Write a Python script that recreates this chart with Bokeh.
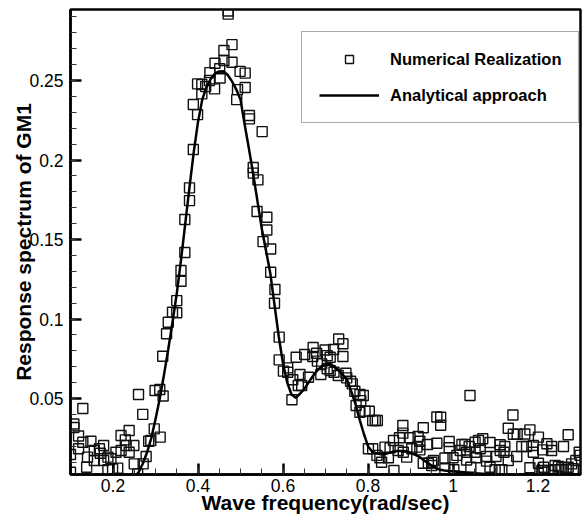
from bokeh.plotting import figure
from bokeh.models import Range1d, SingleIntervalTicker, CustomJSTickFormatter, Legend, LegendItem
from bokeh.embed import file_html
from bokeh.resources import INLINE

# ---- data ----
num_x = [0.100, 0.100, 0.108, 0.108, 0.119, 0.119, 0.129, 0.129, 0.140, 0.138,
         0.148, 0.156, 0.156, 0.168, 0.170, 0.178, 0.178, 0.188, 0.195, 0.188,
         0.199, 0.211, 0.207, 0.219, 0.219, 0.229, 0.231, 0.238, 0.238, 0.249,
         0.250, 0.258, 0.260, 0.270, 0.271, 0.278, 0.284, 0.289, 0.297, 0.311,
         0.299, 0.310, 0.318, 0.317, 0.326, 0.330, 0.340, 0.350, 0.350, 0.360,
         0.360, 0.369, 0.369, 0.380, 0.380, 0.389, 0.389, 0.399, 0.399, 0.409,
         0.409, 0.418, 0.427, 0.428, 0.439, 0.440, 0.451, 0.452, 0.461, 0.461,
         0.471, 0.471, 0.480, 0.480, 0.491, 0.493, 0.499, 0.511, 0.511, 0.521,
         0.521, 0.551, 0.530, 0.530, 0.541, 0.539, 0.562, 0.562, 0.553, 0.571,
         0.571, 0.581, 0.580, 0.591, 0.591, 0.601, 0.611, 0.611, 0.621, 0.623,
         0.631, 0.640, 0.636, 0.644, 0.651, 0.660, 0.671, 0.670, 0.679, 0.681,
         0.689, 0.699, 0.704, 0.704, 0.691, 0.711, 0.711, 0.719, 0.720, 0.731,
         0.741, 0.741, 0.730, 0.748, 0.750, 0.759, 0.763, 0.769, 0.781, 0.789,
         0.783, 0.772, 0.781, 0.793, 0.803, 0.811, 0.817, 0.822, 0.801, 0.811,
         0.821, 0.828, 0.832, 0.840, 0.848, 0.852, 0.860, 0.861, 0.871, 0.874,
         0.882, 0.882, 0.883, 0.891, 0.899, 0.903, 0.915, 0.918, 0.922, 0.922,
         0.930, 0.930, 0.940, 0.942, 0.950, 0.950, 0.954, 0.962, 0.962, 0.971,
         0.971, 0.981, 0.981, 0.991, 0.991, 1.000, 1.002, 1.002, 1.009, 1.017,
         1.021, 1.028, 1.032, 1.032, 1.038, 1.040, 1.042, 1.052, 1.052, 1.054,
         1.060, 1.064, 1.070, 1.079, 1.079, 1.087, 1.087, 1.099, 1.109, 1.101,
         1.111, 1.111, 1.120, 1.122, 1.130, 1.130, 1.115, 1.141, 1.142, 1.151,
         1.150, 1.162, 1.169, 1.173, 1.181, 1.181, 1.189, 1.189, 1.201, 1.201,
         1.211, 1.213, 1.209, 1.214, 1.221, 1.224, 1.232, 1.232, 1.240, 1.240,
         1.248, 1.252, 1.256, 1.260, 1.266, 1.271, 1.271, 1.279, 1.289, 1.299,
         1.297, 1.283]

num_y = [0.0036, 0.0148, 0.0340, 0.0318, 0.0264, 0.0184, 0.0437, 0.0225, 0.0131, 0.0068,
         0.0231, 0.0110, 0.0173, 0.0184, 0.0156, 0.0204, 0.0110, 0.0131, 0.0121, 0.0052,
         0.0058, 0.0062, 0.0162, 0.0173, 0.0267, 0.0240, 0.0204, 0.0299, 0.0162, 0.0204,
         0.0089, 0.0026, 0.0525, 0.0400, 0.0089, 0.0135, 0.0231, 0.0236, 0.0309, 0.0257,
         0.0550, 0.0557, 0.0516, 0.0766, 0.0907, 0.0980, 0.1043, 0.1039, 0.1116, 0.1238,
         0.1305, 0.1418, 0.1626, 0.1745, 0.1825, 0.2066, 0.2349, 0.2286, 0.2479, 0.2475,
         0.2416, 0.2462, 0.2500, 0.2550, 0.2448, 0.2609, 0.2574, 0.2516, 0.2689, 0.2626,
         0.2938, 0.2918, 0.2726, 0.2615, 0.2380, 0.2443, 0.2558, 0.2547, 0.2456, 0.2280,
         0.2259, 0.2179, 0.1953, 0.1918, 0.1875, 0.1676, 0.1640, 0.1560, 0.1487, 0.1440,
         0.1294, 0.1186, 0.1099, 0.0886, 0.0743, 0.0672, 0.0693, 0.0665, 0.0492, 0.0618,
         0.0760, 0.0651, 0.0582, 0.0582, 0.0777, 0.0634, 0.0821, 0.0764, 0.0785, 0.0735,
         0.0651, 0.0805, 0.0770, 0.0687, 0.0718, 0.0760, 0.0676, 0.0808, 0.0665, 0.0874,
         0.0844, 0.0764, 0.0645, 0.0659, 0.0630, 0.0609, 0.0592, 0.0546, 0.0525, 0.0519,
         0.0487, 0.0456, 0.0414, 0.0420, 0.0420, 0.0362, 0.0362, 0.0362, 0.0184, 0.0184,
         0.0142, 0.0127, 0.0099, 0.0194, 0.0127, 0.0190, 0.0236, 0.0047, 0.0173, 0.0253,
         0.0330, 0.0282, 0.0162, 0.0131, 0.0253, 0.0184, 0.0194, 0.0261, 0.0231, 0.0177,
         0.0316, 0.0093, 0.0211, 0.0093, 0.0099, 0.0079, 0.0110, 0.0219, 0.0384, 0.0382,
         0.0332, 0.0126, 0.0058, 0.0230, 0.0190, 0.0127, 0.0052, 0.0012, 0.0142, 0.0173,
         0.0211, 0.0211, 0.0162, 0.0113, 0.0198, 0.0519, 0.0068, 0.0225, 0.0162, 0.0127,
         0.0236, 0.0184, 0.0247, 0.0135, 0.0106, 0.0223, 0.0068, 0.0052, 0.0052, 0.0135,
         0.0173, 0.0209, 0.0162, 0.0198, 0.0313, 0.0110, 0.0052, 0.0396, 0.0275, 0.0275,
         0.0135, 0.0198, 0.0277, 0.0198, 0.0303, 0.0064, 0.0204, 0.0162, 0.0257, 0.0093,
         0.0177, 0.0068, 0.0047, 0.0036, 0.0215, 0.0047, 0.0198, 0.0173, 0.0079, 0.0052,
         0.0072, 0.0052, 0.0064, 0.0198, 0.0052, 0.0068, 0.0272, 0.0089, 0.0110, 0.0142,
         0.0162, 0.0058]

curve_x = [0.25, 0.26, 0.27, 0.28, 0.29, 0.30, 0.31, 0.32, 0.33, 0.34,
           0.35, 0.36, 0.37, 0.38, 0.39, 0.40, 0.41, 0.42, 0.43, 0.44,
           0.45, 0.46, 0.47, 0.48, 0.49, 0.50, 0.51, 0.52, 0.53, 0.54,
           0.55, 0.56, 0.57, 0.58, 0.59, 0.60, 0.61, 0.62, 0.63, 0.64,
           0.65, 0.66, 0.67, 0.68, 0.69, 0.70, 0.71, 0.72, 0.73, 0.74,
           0.75, 0.76, 0.77, 0.78, 0.79, 0.80, 0.81, 0.82, 0.83, 0.84,
           0.85, 0.86, 0.87, 0.88, 0.89, 0.90, 0.91, 0.92, 0.93, 0.94,
           0.95, 0.96, 0.97, 0.98, 0.99, 1.00, 1.01, 1.02, 1.03, 1.04,
           1.05, 1.06, 1.07, 1.08, 1.09, 1.10, 1.11, 1.12]

curve_y = [0.0005, 0.0035, 0.0090, 0.0160, 0.0250, 0.0370, 0.0500, 0.0650, 0.0810, 0.0980,
           0.1160, 0.1370, 0.1600, 0.1830, 0.2050, 0.2240, 0.2380, 0.2460, 0.2510, 0.2545,
           0.2557, 0.2558, 0.2535, 0.2495, 0.2445, 0.2380, 0.2220, 0.2070, 0.1910, 0.1740,
           0.1570, 0.1430, 0.1290, 0.1090, 0.0890, 0.0720, 0.0600, 0.0525, 0.0505, 0.0530,
           0.0560, 0.0600, 0.0640, 0.0675, 0.0700, 0.0712, 0.0712, 0.0700, 0.0680, 0.0650,
           0.0624, 0.0550, 0.0470, 0.0370, 0.0280, 0.0200, 0.0165, 0.0155, 0.0150, 0.0150,
           0.0158, 0.0166, 0.0170, 0.0170, 0.0168, 0.0158, 0.0147, 0.0135, 0.0115, 0.0095,
           0.0078, 0.0062, 0.0052, 0.0047, 0.0044, 0.0042, 0.0040, 0.0037, 0.0034, 0.0032,
           0.0030, 0.0028, 0.0026, 0.0024, 0.0022, 0.0020, 0.0018, 0.0016]

x_label = "Wave frequency(rad/sec)"
y_label = "Response spectrum of GM1"
series_names = ["Numerical Realization", "Analytical approach"]

FONT = "Liberation Sans"

p = figure(width=586, height=520, output_backend="svg", toolbar_location=None,
           x_range=Range1d(0.1, 1.3), y_range=Range1d(0.0022, 0.2947),
           min_border_left=70, min_border_right=6, min_border_top=9, min_border_bottom=46)
p.grid.visible = False
p.background_fill_color = "white"
p.border_fill_color = "white"
p.outline_line_color = "black"
p.outline_line_width = 2.5
p.outline_line_alpha = 1.0

fmt = "return String(parseFloat(tick.toFixed(3)));"
p.xaxis[0].ticker = SingleIntervalTicker(interval=0.2, num_minor_ticks=4)
p.yaxis[0].ticker = SingleIntervalTicker(interval=0.05, num_minor_ticks=5)

for ax in (p.xaxis[0], p.yaxis[0]):
    ax.formatter = CustomJSTickFormatter(code=fmt)
    ax.axis_line_color = "black"
    ax.axis_line_width = 2.5
    ax.major_tick_in = 11
    ax.major_tick_out = 0
    ax.major_tick_line_width = 2.5
    ax.major_tick_line_color = "black"
    ax.minor_tick_in = 6
    ax.minor_tick_out = 0
    ax.minor_tick_line_width = 1
    ax.minor_tick_line_color = "#333333"
    ax.major_label_text_font = FONT
    ax.major_label_text_font_size = "17.5px"
    ax.major_label_text_color = "black"
    ax.axis_label_text_font = FONT
    ax.axis_label_text_font_style = "bold"
    ax.axis_label_text_font_size = "21px"
    ax.axis_label_text_color = "black"

p.xaxis[0].axis_label = x_label
p.yaxis[0].axis_label = y_label
p.xaxis[0].major_label_standoff = 4
p.xaxis[0].axis_label_standoff = -4
p.yaxis[0].major_label_standoff = 7
p.yaxis[0].axis_label_standoff = -9

sc = p.scatter(num_x, num_y, marker="square", size=10, fill_alpha=0,
               line_color="#111111", line_width=1.4)
ln = p.line(curve_x, curve_y, line_color="black", line_width=2.5)

legend = Legend(items=[LegendItem(label=series_names[0], renderers=[sc]),
                       LegendItem(label=series_names[1], renderers=[ln])],
                location=(231, 351), glyph_width=60, glyph_height=20,
                label_height=20, label_width=169, label_standoff=11,
                spacing=16, padding=17, margin=0,
                label_text_font=FONT, label_text_font_style="bold",
                label_text_font_size="16.5px", label_text_color="black",
                border_line_color="#555555", border_line_width=1,
                background_fill_color="white", background_fill_alpha=1.0)
p.add_layout(legend)

open("out.html", "w").write(file_html(p, INLINE))
